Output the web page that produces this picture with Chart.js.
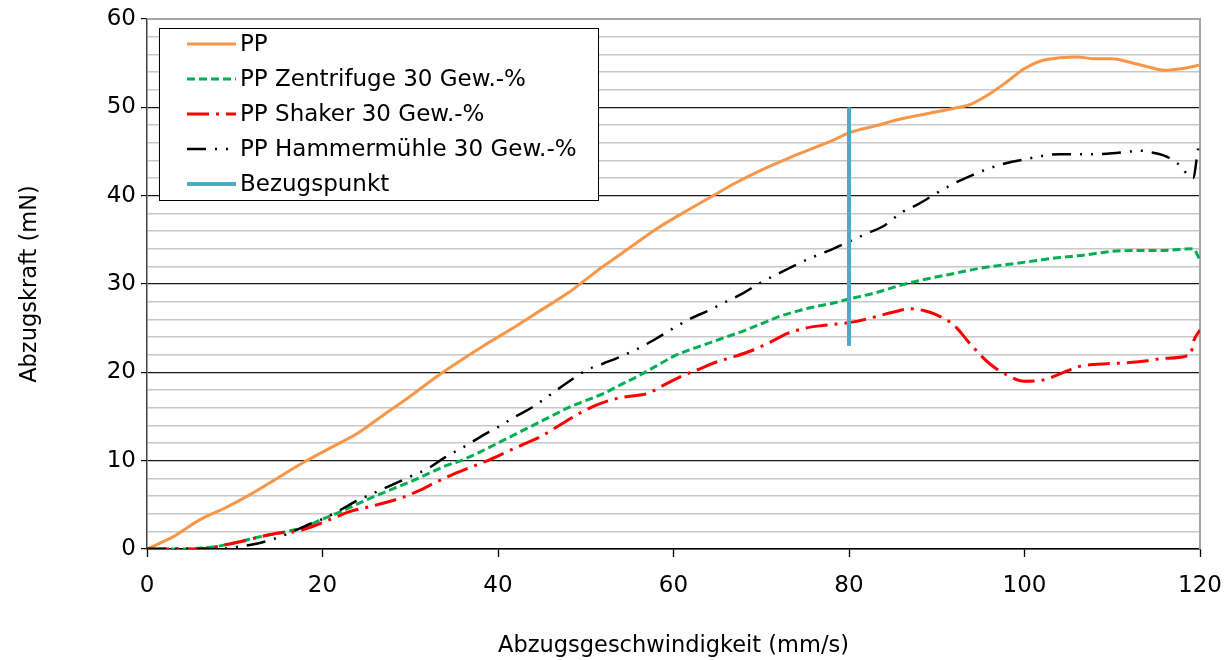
<!DOCTYPE html>
<html>
<head>
<meta charset="utf-8">
<script src="https://cdn.jsdelivr.net/npm/chart.js@4.4.1/dist/chart.umd.min.js"></script>
<style>
  html, body { margin: 0; padding: 0; background: #fff; }
  #wrap { width: 1232px; height: 660px; }
</style>
</head>
<body>
<div id="wrap"><canvas id="chart" width="1232" height="660"></canvas></div>
<script>
// values (x = mm/s, y = mN)
const ppX = [0, 3, 6, 9, 12, 15, 18, 21, 24, 27, 30, 33, 36, 39, 42, 45, 48, 50, 52, 55, 58, 61, 64, 67, 70, 73, 76, 78, 80, 83, 86, 89, 92, 94, 96, 98, 100, 102, 104, 106, 108, 110, 112, 114, 116, 118, 120];
const ppY = [0, 1.4, 3.3, 4.7, 6.3, 8.1, 9.9, 11.5, 13.1, 15.2, 17.3, 19.5, 21.5, 23.4, 25.2, 27.1, 29.0, 30.5, 32.0, 34.1, 36.2, 38.0, 39.7, 41.4, 42.9, 44.2, 45.4, 46.2, 47.1, 47.9, 48.7, 49.3, 49.9, 50.4, 51.5, 52.9, 54.4, 55.3, 55.6, 55.7, 55.5, 55.5, 55.1, 54.6, 54.2, 54.4, 54.8];

const zentX = [0, 4, 8, 10, 12, 14, 16, 18, 20, 22, 24, 26, 28, 30, 32, 34, 36, 38, 40, 42, 44, 46, 48, 50, 52, 54, 56, 58, 60, 62, 64, 66, 68, 70, 72, 74, 76, 78, 80, 83, 86, 89, 92, 95, 98, 101, 104, 107, 110, 113, 116, 119.2, 120];
const zentY = [0, 0, 0.3, 0.7, 1.2, 1.6, 2.0, 2.5, 3.4, 4.2, 5.1, 6.0, 6.8, 7.6, 8.5, 9.4, 10.1, 11.0, 12.0, 13.0, 14.0, 15.0, 16.0, 16.8, 17.6, 18.6, 19.6, 20.7, 21.8, 22.6, 23.3, 24.0, 24.7, 25.5, 26.3, 26.9, 27.4, 27.8, 28.3, 29.0, 29.9, 30.6, 31.2, 31.8, 32.2, 32.6, 33.0, 33.3, 33.7, 33.8, 33.8, 34.0, 32.7];

const shakerX = [0, 4, 7, 9, 11, 13, 15, 17, 19, 21, 23, 25, 27, 29, 31, 33, 35, 37, 39, 41, 43, 45, 47, 49, 51, 53, 55, 57, 59, 61, 63, 65, 67, 69, 71, 73, 75, 77, 79, 81, 83, 85, 87, 88.5, 90, 92, 94, 96, 98, 100, 102, 104, 106, 108, 110, 112, 114, 116, 118.9, 119.3, 120];
const shakerY = [0, 0, 0.1, 0.5, 0.9, 1.4, 1.8, 2.0, 2.6, 3.4, 4.2, 4.7, 5.2, 5.8, 6.6, 7.6, 8.5, 9.3, 10.1, 11.0, 11.9, 12.8, 14.0, 15.2, 16.2, 16.9, 17.3, 17.6, 18.6, 19.6, 20.4, 21.2, 21.8, 22.5, 23.4, 24.4, 25.0, 25.3, 25.5, 25.8, 26.3, 26.8, 27.2, 27.0, 26.5, 25.3, 23.0, 21.0, 19.7, 19.0, 19.1, 19.8, 20.6, 20.9, 21.0, 21.1, 21.3, 21.6, 22.0, 23.6, 24.8];

const hammerX = [0, 8, 10, 12, 14, 16, 18, 20, 22, 24, 26, 28, 30, 32, 34, 36, 38, 40, 42, 44, 46, 48, 50, 52, 54, 56, 58, 60, 62, 64, 66, 68, 70, 72, 74, 76, 78, 80, 82, 84, 86, 88, 90, 92, 94, 96, 98, 100, 102, 104, 106, 108, 110, 112, 113, 114.5, 116, 117.5, 119.2, 119.8];
const hammerY = [0, 0, 0.2, 0.5, 1.0, 1.7, 2.6, 3.4, 4.4, 5.5, 6.4, 7.3, 8.2, 9.1, 10.4, 11.5, 12.7, 13.8, 15.0, 16.1, 17.5, 18.9, 20.2, 21.0, 21.8, 22.7, 23.8, 25.0, 26.1, 27.0, 28.0, 29.0, 30.2, 31.2, 32.2, 33.1, 33.9, 34.8, 35.7, 36.6, 38.1, 39.1, 40.3, 41.4, 42.3, 43.1, 43.7, 44.1, 44.5, 44.7, 44.7, 44.7, 44.8, 45.0, 45.1, 44.9, 44.5, 43.6, 42.0, 45.4];

const refX = [80, 80];
const refY = [23, 50];

const seriesNames = ['PP', 'PP Zentrifuge 30 Gew.-%', 'PP Shaker 30 Gew.-%', 'PP Hammermühle 30 Gew.-%', 'Bezugspunkt'];

const FONT = '"DejaVu Sans", Verdana, sans-serif';

function pts(xs, ys) {
  return xs.map((x, i) => ({ x: x, y: ys[i] }));
}

// legend drawn inside the plot, like the original
const innerLegend = {
  id: 'innerLegend',
  afterDatasetsDraw(chart) {
    const ctx = chart.ctx;
    ctx.save();
    ctx.fillStyle = '#fff';
    ctx.fillRect(159, 28, 439, 172);
    ctx.strokeStyle = '#000';
    ctx.lineWidth = 1;
    ctx.strokeRect(159.5, 28.5, 439, 172);
    chart.data.datasets.forEach((ds, i) => {
      const y = 44 + i * 35;
      ctx.beginPath();
      ctx.setLineDash(ds.borderDash || []);
      ctx.strokeStyle = ds.borderColor;
      ctx.lineWidth = ds.borderWidth;
      ctx.moveTo(187, y);
      ctx.lineTo(236, y);
      ctx.stroke();
      ctx.setLineDash([]);
      ctx.fillStyle = '#000';
      ctx.font = '23px ' + FONT;
      ctx.textBaseline = 'middle';
      ctx.fillText(ds.label, 240, y + 1);
    });
    ctx.restore();
  }
};

// gray frame on top and right of plot area
const frame = {
  id: 'frame',
  beforeDatasetsDraw(chart) {
    const a = chart.chartArea;
    const ctx = chart.ctx;
    ctx.save();
    ctx.strokeStyle = '#A6A6A6';
    ctx.lineWidth = 2;
    ctx.beginPath();
    ctx.moveTo(a.left, a.top);
    ctx.lineTo(a.right, a.top);
    ctx.lineTo(a.right, a.bottom);
    ctx.stroke();
    ctx.restore();
  }
};

function mainEvent() {
  const ctx = document.getElementById('chart');

  const chart = new Chart(ctx, {
    type: 'scatter',
    data: {
      datasets: [
        { label: seriesNames[0], data: pts(ppX, ppY), borderColor: '#F79646', borderWidth: 3, cubicInterpolationMode: 'monotone', order: 5 },
        { label: seriesNames[1], data: pts(zentX, zentY), borderColor: '#00B050', borderWidth: 3, borderDash: [8, 4], cubicInterpolationMode: 'monotone', order: 4 },
        { label: seriesNames[2], data: pts(shakerX, shakerY), borderColor: '#FF0000', borderWidth: 3, borderDash: [22, 7, 3, 7], cubicInterpolationMode: 'monotone', order: 3 },
        { label: seriesNames[3], data: pts(hammerX, hammerY), borderColor: '#000000', borderWidth: 2.5, borderDash: [19, 9, 2, 9, 2, 9], cubicInterpolationMode: 'monotone', order: 2 },
        { label: seriesNames[4], data: pts(refX, refY), borderColor: '#4BACC6', borderWidth: 4, order: 1 }
      ]
    },
    options: {
      responsive: false,
      animation: false,
      showLine: true,
      elements: { point: { radius: 0, hoverRadius: 0 }, line: { tension: 0, borderCapStyle: 'butt' } },
      layout: { padding: { left: 10, right: 32, top: 19, bottom: 0 } },
      plugins: { legend: { display: false }, tooltip: { enabled: false } },
      scales: {
        x: {
          type: 'linear', min: 0, max: 120,
          ticks: { stepSize: 20, color: '#000', font: { family: FONT, size: 23 }, padding: 15, maxRotation: 0 },
          grid: { drawOnChartArea: false, tickLength: 8, tickColor: '#000', tickWidth: 1.3 },
          border: { color: '#000', width: 1.5 },
          title: { display: true, text: 'Abzugsgeschwindigkeit (mm/s)', color: '#000', font: { family: FONT, size: 22.5 }, padding: { top: 0, bottom: 0 } },
          afterFit(scale) { scale.height = 111; scale.paddingLeft = 0; scale.paddingRight = 0; }
        },
        y: {
          type: 'linear', min: 0, max: 60,
          ticks: {
            stepSize: 2, color: '#000', font: { family: FONT, size: 23 }, padding: 5, autoSkip: false,
            callback: (v) => (v % 10 === 0 ? v : '')
          },
          grid: {
            color: (c) => (c.tick && c.tick.value % 10 === 0 ? '#1a1a1a' : '#C8C8C8'),
            lineWidth: (c) => (c.tick && c.tick.value % 10 === 0 ? 1.2 : 1.6),
            tickColor: (c) => (c.tick && c.tick.value % 10 === 0 ? '#000' : 'rgba(0,0,0,0)'),
            tickLength: 6
          },
          border: { color: '#404040', width: 1.5 },
          title: { display: true, text: 'Abzugskraft (mN)', color: '#000', font: { family: FONT, size: 22.5 }, padding: { top: 7, bottom: 0 } },
          afterFit(scale) { scale.width = 137; scale.paddingTop = 0; scale.paddingBottom = 0; }
        }
      }
    },
    plugins: [frame, innerLegend]
  });
  return chart;
}

document.addEventListener('DOMContentLoaded', () => mainEvent());
</script>
</body>
</html>
